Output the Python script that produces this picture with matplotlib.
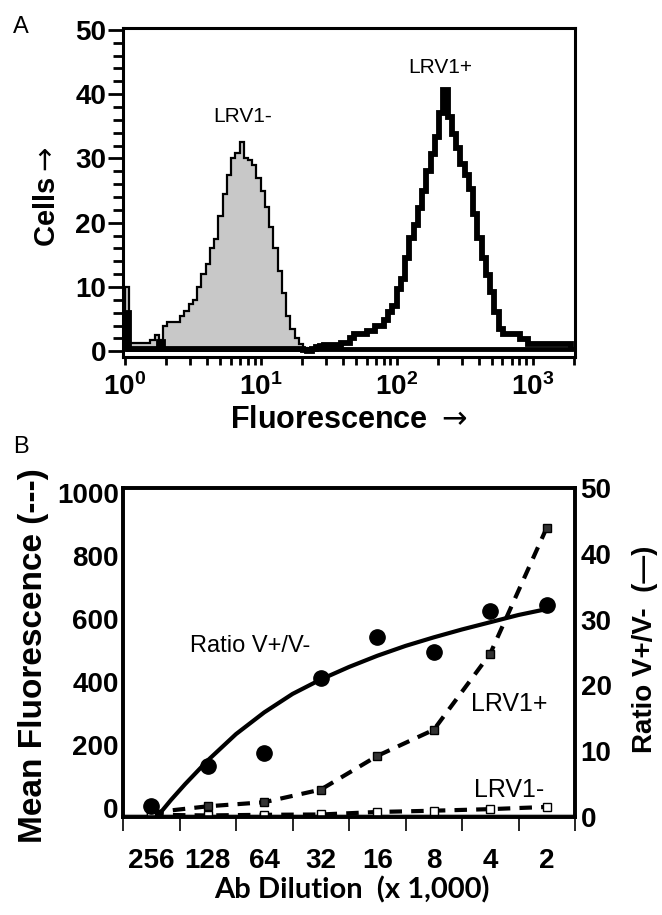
import numpy as np
import matplotlib
matplotlib.use("Agg")
import matplotlib.pyplot as plt
from matplotlib.ticker import MultipleLocator, FixedLocator, LogLocator, NullFormatter
from matplotlib import font_manager

# fonts ==========================================================================
nombres = {f.name for f in font_manager.fontManager.ttflist}
ANCHA = ['Liberation Sans', 'DejaVu Sans']
if 'Liberation Sans Narrow' in nombres:
    ANGOSTA = ['Liberation Sans Narrow', 'Liberation Sans', 'DejaVu Sans']
else:
    ANGOSTA = ANCHA
plt.rcParams['font.family'] = ANCHA
plt.rcParams['mathtext.fontset'] = 'dejavusans'

# Panel A: histogram, bins of 1/32 decade starting at 10^0 =======================
bin_start = 0.0      # log10
bin_width = 1 / 32   # log10
lrv1_neg = [10.0, 1.3, 1.3, 1.3, 1.3, 1.3, 1.8, 2.6, 1.8, 3.9,
            4.5, 4.5, 4.5, 5.5, 6.3, 7.3, 8.0, 10.0, 12.0, 13.5,
            16.0, 17.5, 21.0, 24.5, 27.5, 30.1, 30.9, 32.5, 30.0, 29.8,
            29.0, 27.0, 24.9, 22.5, 19.4, 16.0, 12.5, 9.0, 5.5, 3.5,
            2.0, 1.2, 0.5]
lrv1_pos = [6.0, 0.4, 0.4, 0.4, 0.4, 0.4, 0.4, 0.4, 1.5, 0.4,
            0.4, 0.4, 0.4, 0.4, 0.4, 0.4, 0.4, 0.4, 0.4, 0.4,
            0.4, 0.4, 0.4, 0.4, 0.4, 0.4, 0.4, 0.4, 0.4, 0.4,
            0.4, 0.4, 0.4, 0.4, 0.4, 0.4, 0.4, 0.4, 0.4, 0.4,
            0.4, 0.3, 0.2, 0.1, 0.4, 0.6, 0.8, 1.0, 1.0, 1.0,
            1.0, 1.3, 1.3, 2.1, 2.7, 2.7, 2.7, 3.2, 3.2, 4.0,
            4.0, 4.8, 6.1, 7.1, 9.7, 11.3, 14.5, 17.6, 19.7, 22.3,
            24.9, 28.1, 30.7, 33.3, 37.0, 40.6, 36.4, 33.8, 31.7, 29.1,
            27.5, 25.2, 21.3, 17.6, 14.5, 11.8, 9.2, 6.1, 3.5, 2.7,
            2.7, 2.7, 2.7, 1.9, 1.9, 1.1, 1.1, 1.1, 1.1, 1.1,
            1.1, 1.1, 1.1, 1.1, 1.1]

# Panel B: titration ============================================================
diluciones = ['256', '128', '64', '32', '16', '8', '4', '2']
media_pos = [-15, 5, 18, 58, 165, 248, 490, 890]       # LRV1+ (left axis)
media_neg = [-22, -24, -22, -21, -13, -9, -4, 3]        # LRV1- (left axis)
ratio = [1.7, 7.8, 9.8, 21.1, 27.4, 25.0, 31.3, 32.2]   # V+/V- (right axis)
ajuste_x = [0.1, 0.35, 0.6, 1.0, 1.5, 2.0, 2.5, 3.0, 3.5, 4.0, 4.5, 5.0, 5.5, 6.0, 6.5, 7.0]
ajuste_y = [0, 2.6, 5.0, 8.6, 12.6, 15.9, 18.7, 20.9, 22.8, 24.5, 26.0, 27.3, 28.5, 29.6, 30.7, 31.6]

fig = plt.figure(figsize=(6.62, 9.15), dpi=100)

# ---------------------------------------------------------------- panel A
axA = fig.add_axes([0.1858, 0.6098, 0.6828, 0.3596])
bordes_neg = 10 ** (bin_start + bin_width * np.arange(len(lrv1_neg) + 1))
bordes_pos = 10 ** (bin_start + bin_width * np.arange(len(lrv1_pos) + 1))
axA.stairs(lrv1_neg, bordes_neg, fill=True, color='#c8c8c8', zorder=1)
axA.stairs(lrv1_neg, bordes_neg, color='black', lw=1.6, zorder=2)
axA.stairs(lrv1_pos, bordes_pos, color='black', lw=4.2, zorder=3)
axA.plot([bordes_pos[0], bordes_pos[-1]], [0.3, 0.3], color='black', lw=3.5, zorder=3)

axA.set_xscale('log')
axA.set_xlim(0.97, 2050)
axA.set_ylim(-0.9, 50.3)
axA.yaxis.set_major_locator(MultipleLocator(10))
axA.yaxis.set_minor_locator(MultipleLocator(2))
axA.xaxis.set_major_locator(LogLocator(base=10, numticks=10))
axA.xaxis.set_minor_locator(LogLocator(base=10, subs=np.arange(2, 10), numticks=10))
axA.xaxis.set_minor_formatter(NullFormatter())
axA.tick_params(axis='y', which='major', direction='out', length=11, width=2,
                labelsize=20, pad=1)
axA.tick_params(axis='y', which='minor', direction='out', length=7, width=2)
axA.tick_params(axis='x', which='both', direction='out', length=6, width=2)
axA.tick_params(axis='x', which='major', labelsize=20, pad=6)
for lab in axA.get_xticklabels() + axA.get_yticklabels():
    lab.set_fontweight('bold')
for s in axA.spines.values():
    s.set_linewidth(2.2)

axA.text(7.4, 36.6, 'LRV1-', ha='center', va='center', fontsize=15)
axA.text(210, 44.2, 'LRV1+', ha='center', va='center', fontsize=15)

fig.text(0.071, 0.785, 'Cells$\\rightarrow$', rotation=90, ha='center', va='center',
         fontsize=21, fontweight='bold', family=ANCHA)
fig.text(0.526, 0.541, 'Fluorescence $\\rightarrow$', ha='center', va='center',
         fontsize=22, fontweight='bold', family=ANCHA)
fig.text(0.032, 0.970, 'A', ha='center', va='center', fontsize=17)
fig.text(0.032, 0.511, 'B', ha='center', va='center', fontsize=17)

# ---------------------------------------------------------------- panel B
axB = fig.add_axes([0.1858, 0.1071, 0.6828, 0.3596])
axR = axB.twinx()
pos = np.arange(len(diluciones))

axB.plot(pos, media_pos, color='black', lw=3, dashes=(3, 2.2), marker='s', ms=6,
         mfc='#333333', mec='black', zorder=3)
axB.plot(pos, media_neg, color='black', lw=3, dashes=(3, 2.2), marker='s', ms=6,
         mfc='white', mec='black', zorder=3)
axB.axhline(-22, color='#b0b0b0', lw=1.5, zorder=2)
axR.plot(ajuste_x, ajuste_y, color='black', lw=3, zorder=3)
axR.plot(pos, ratio, 'o', color='black', ms=11, zorder=4)

axB.set_xlim(-0.5, 7.5)
axB.set_ylim(-29, 1016)
axR.set_ylim(0, 50)
axB.set_yticks([0, 200, 400, 600, 800, 1000])
axR.set_yticks([0, 10, 20, 30, 40, 50])
axB.set_xticks(pos)
axB.set_xticklabels(diluciones)
axB.xaxis.set_minor_locator(FixedLocator(np.arange(-0.5, 8, 1)))
axB.tick_params(axis='x', which='major', length=0, pad=22, labelsize=20)
axB.tick_params(axis='x', which='minor', length=10, width=1.2, direction='out')
axB.tick_params(axis='y', length=0, pad=3, labelsize=20)
axR.tick_params(axis='y', length=0, pad=4, labelsize=20)
for lab in axB.get_xticklabels() + axB.get_yticklabels() + axR.get_yticklabels():
    lab.set_family(ANGOSTA)
    lab.set_fontweight('bold')
for ax in (axB, axR):
    for s in ax.spines.values():
        s.set_linewidth(2.6)

axR.text(1.75, 26, 'Ratio V+/V-', ha='center', va='center', fontsize=17, family=ANGOSTA)
axR.text(6.33, 17.2, 'LRV1+', ha='center', va='center', fontsize=18, family=ANGOSTA)
axR.text(6.33, 4.1, 'LRV1-', ha='center', va='center', fontsize=18, family=ANGOSTA)

fig.text(0.05, 0.283, 'Mean Fluorescence (---)', rotation=90, ha='center', va='center',
         fontsize=24, fontweight='bold', family=ANCHA)
fig.text(0.975, 0.290, 'Ratio V+/V-  (—)', rotation=90, ha='center', va='center',
         fontsize=20, fontweight='bold', family=ANCHA)
fig.text(0.532, 0.027, 'Ab Dilution  (x 1,000)', ha='center', va='center',
         fontsize=21, fontweight='bold', family=['Lato', 'DejaVu Sans'])

fig.savefig('out.png', dpi=100)
